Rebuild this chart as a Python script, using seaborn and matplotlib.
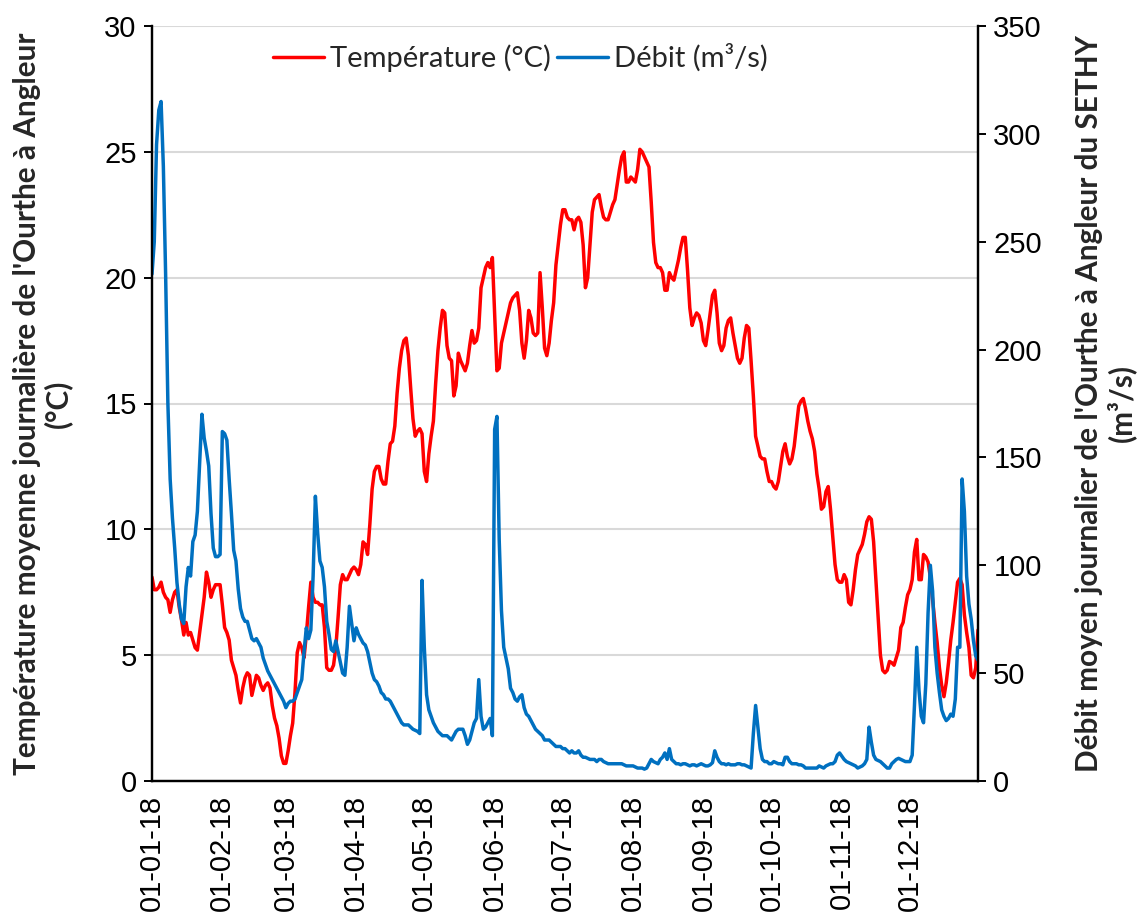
import numpy as np
import pandas as pd
import matplotlib
matplotlib.use("Agg")
import matplotlib.pyplot as plt
import matplotlib.dates as mdates
import seaborn as sns

# Daily mean water temperature of the Ourthe at Angleur, 2018 (°C), month by month
temp_jan = [8.1, 7.6, 7.6, 7.7, 7.9, 7.5, 7.3, 7.2, 6.7, 7.2, 7.5, 7.6, 6.9, 6.4, 5.8, 6.3,
            5.8, 5.9, 5.6, 5.3, 5.2, 5.9, 6.6, 7.3, 8.3, 7.9, 7.3, 7.6, 7.8, 7.8, 7.8]
temp_feb = [7.0, 6.1, 5.9, 5.6, 4.8, 4.5, 4.2, 3.6, 3.1, 3.7, 4.1, 4.3, 4.2, 3.4, 3.8, 4.2,
            4.1, 3.8, 3.6, 3.8, 3.9, 3.7, 3.0, 2.5, 2.2, 1.7, 1.0, 0.7]
temp_mar = [0.7, 1.2, 1.8, 2.3, 3.5, 5.1, 5.5, 5.3, 4.9, 5.8, 6.9, 7.9, 7.3, 7.1, 7.1, 7.0,
            7.0, 6.1, 4.5, 4.4, 4.4, 4.6, 5.3, 6.5, 7.8, 8.2, 8.0, 8.0, 8.2, 8.4, 8.5]
temp_apr = [8.4, 8.2, 8.6, 9.5, 9.4, 9.0, 10.2, 11.6, 12.3, 12.5, 12.5, 12.0, 11.8, 11.8, 12.7,
            13.4, 13.5, 14.1, 15.4, 16.4, 17.1, 17.5, 17.6, 16.9, 15.6, 14.4, 13.7, 13.9, 14.0, 13.8]
temp_may = [12.3, 11.9, 13.0, 13.7, 14.3, 15.8, 17.1, 18.0, 18.7, 18.6, 17.3, 16.8, 16.7, 15.3,
            15.7, 17.0, 16.7, 16.5, 16.3, 16.6, 17.3, 17.9, 17.4, 17.5, 18.0, 19.6, 20.0, 20.4,
            20.6, 20.4, 20.8]
temp_jun = [18.5, 16.3, 16.4, 17.4, 17.8, 18.2, 18.6, 19.0, 19.2, 19.3, 19.4, 18.7, 17.4, 16.8,
            17.5, 18.7, 18.4, 17.8, 17.7, 17.8, 20.2, 18.8, 17.2, 16.9, 17.4, 18.3, 19.0, 20.5,
            21.3, 22.1]
temp_jul = [22.7, 22.7, 22.4, 22.3, 22.3, 21.9, 22.3, 22.4, 22.2, 21.3, 19.6, 20.0, 21.3, 22.6,
            23.1, 23.2, 23.3, 22.8, 22.4, 22.3, 22.3, 22.6, 22.9, 23.1, 23.7, 24.3, 24.8, 25.0,
            23.8, 23.8, 24.0]
temp_aug = [23.9, 23.8, 24.3, 25.1, 25.0, 24.8, 24.6, 24.4, 23.0, 21.4, 20.6, 20.4, 20.4, 20.2,
            19.5, 19.5, 20.2, 20.0, 19.9, 20.3, 20.7, 21.2, 21.6, 21.6, 20.3, 18.8, 18.1, 18.4,
            18.6, 18.5, 18.2]
temp_sep = [17.5, 17.3, 17.9, 18.6, 19.3, 19.5, 18.6, 17.4, 17.1, 17.3, 18.0, 18.3, 18.4, 17.8,
            17.3, 16.8, 16.6, 16.8, 17.6, 18.1, 18.0, 16.7, 15.3, 13.7, 13.3, 12.9, 12.8, 12.8,
            12.3, 11.9]
temp_oct = [11.9, 11.7, 11.6, 11.9, 12.5, 13.1, 13.4, 12.9, 12.6, 12.8, 13.3, 14.1, 14.9, 15.1,
            15.2, 14.8, 14.3, 13.9, 13.6, 13.1, 12.2, 11.6, 10.8, 10.9, 11.5, 11.7, 10.8, 9.7,
            8.6, 8.0, 7.9]
temp_nov = [7.9, 8.2, 8.0, 7.1, 7.0, 7.6, 8.4, 9.0, 9.2, 9.4, 9.8, 10.3, 10.5, 10.4, 9.5, 8.0,
            6.5, 5.0, 4.4, 4.3, 4.4, 4.75, 4.7, 4.6, 4.9, 5.2, 6.1, 6.3, 6.9, 7.4]
temp_dec = [7.6, 8.0, 9.1, 9.6, 8.0, 8.0, 9.0, 8.9, 8.7, 8.1, 7.2, 6.3, 5.5, 4.5, 3.8, 3.35,
            3.9, 4.7, 5.6, 6.3, 7.1, 7.9, 8.05, 7.8, 6.6, 5.9, 5.3, 4.2, 4.1, 4.5, 6.0]

# Daily mean discharge at Angleur (SETHY), 2018 (m³/s), month by month
flow_jan = [235, 250, 295, 311, 315, 285, 235, 175, 140, 122, 108, 92, 82, 75, 73, 90, 99, 95,
            111, 114, 125, 148, 170, 159, 153, 146, 124, 108, 104, 104, 105]
flow_feb = [162, 161, 158, 140, 124, 107, 102, 89, 80, 76, 74, 74, 70, 66, 65, 66, 64, 62, 57,
            54, 51, 49, 47, 45, 43, 41, 39, 37]
flow_mar = [34, 36, 37, 37, 38, 41, 44, 47, 60, 71, 66, 70, 95, 132, 115, 102, 99, 90, 74, 68,
            61, 60, 65, 60, 55, 50, 49, 62, 81, 73, 65]
flow_apr = [71, 68, 66, 64, 63, 60, 55, 50, 47, 46, 44, 41, 40, 38, 38, 37, 35, 33, 31, 29, 27,
            26, 26, 26, 25, 24, 23.5, 23, 22, 93]
flow_may = [62, 40, 33, 30, 27, 25, 23, 22, 21, 21, 21, 20, 19, 21, 23, 24, 24, 24, 21, 17, 19,
            23, 27, 29, 47, 30, 24, 25, 27, 29, 21]
flow_jun = [163, 169, 112, 79, 62, 57, 52, 43, 41, 38, 37, 39, 40, 34, 31, 30, 28, 26, 24, 23,
            22, 21, 19, 19, 19, 18, 17, 16, 16, 16]
flow_jul = [15, 15, 14, 13, 14, 13, 13, 14, 12, 11, 11, 10.5, 10, 10, 10, 9, 10, 10, 9, 8.5, 8,
            8, 8, 8, 8, 8, 8, 7.5, 7, 7, 7]
flow_aug = [7, 6.5, 6, 6, 6, 5.5, 6, 8, 10, 9, 8.5, 8, 10, 11, 13, 10, 15, 10, 9, 8, 8, 7.5, 8,
            8, 7.5, 7, 7.5, 7.5, 7, 7.5, 8]
flow_sep = [7.5, 7, 7, 7.5, 8.5, 14, 11, 9, 8, 8, 7.5, 8, 7.5, 7.5, 7.5, 8, 8, 7.5, 7.5, 7, 6.5,
            6, 22, 35, 25, 15, 10, 9, 9, 8]
flow_oct = [8, 9, 8.5, 8, 8, 7.5, 11, 11, 9, 8, 8, 8, 7.5, 7.5, 7, 6, 6, 6, 6, 6, 6, 7, 6.5, 6,
            7, 7.5, 8, 8, 9, 12, 13]
flow_nov = [11.5, 10, 9, 8.5, 8, 7.5, 7, 6, 6.5, 7, 8, 10, 25, 18, 12, 10, 9.5, 9, 8, 7, 6, 6,
            8, 9, 10, 10.5, 10, 9.5, 9, 9]
flow_dec = [9, 12, 35, 62, 42, 30, 27, 45, 78, 100, 88, 62, 50, 41, 33, 30, 28, 29, 31, 30, 38,
            62, 62, 140, 125, 95, 82, 75, 65, 58, 56]

temp_label = "Température (°C)"
flow_label = "Débit (m³/s)"
left_title = "Température moyenne journalière de l'Ourthe à Angleur\n(°C)"
right_title = "Débit moyen journalier de l'Ourthe à Angleur du SETHY\n(m³/s)"
temp_ticks = [0, 5, 10, 15, 20, 25, 30]
flow_ticks = [0, 50, 100, 150, 200, 250, 300, 350]

temperature = np.concatenate([temp_jan, temp_feb, temp_mar, temp_apr, temp_may, temp_jun,
                              temp_jul, temp_aug, temp_sep, temp_oct, temp_nov, temp_dec])
discharge = np.concatenate([flow_jan, flow_feb, flow_mar, flow_apr, flow_may, flow_jun,
                            flow_jul, flow_aug, flow_sep, flow_oct, flow_nov, flow_dec])
dates = pd.date_range("2018-01-01", "2018-12-31", freq="D")
df = pd.DataFrame({"date": dates, "temp": temperature, "flow": discharge})

sns.set_style("white")
plt.rcParams["font.family"] = ["Liberation Sans", "DejaVu Sans"]

RED = "#FF0000"
BLUE = "#0070C0"
TICK_SIZE = 21
TITLE_FONT = ["Lato", "DejaVu Sans"]
TITLE_SIZE = 21.4

fig = plt.figure(figsize=(11.43, 9.18), dpi=100)
ax = fig.add_axes([152 / 1143, 1 - 781 / 918, 826 / 1143, 755 / 918])
ax2 = ax.twinx()

sns.lineplot(data=df, x="date", y="temp", ax=ax, color=RED, linewidth=2.5, label=temp_label,
             legend=False)
sns.lineplot(data=df, x="date", y="flow", ax=ax2, color=BLUE, linewidth=2.5, label=flow_label,
             legend=False)

# Axes ranges and ticks
ax.set_xlim(pd.Timestamp("2018-01-01"), pd.Timestamp("2018-12-31"))
ax.set_ylim(0, 30)
ax.set_yticks(temp_ticks)
ax2.set_ylim(0, 350)
ax2.set_yticks(flow_ticks)
ax.xaxis.set_major_locator(mdates.MonthLocator())
ax.xaxis.set_major_formatter(mdates.DateFormatter("%d-%m-%y"))

for a in (ax, ax2):
    a.tick_params(axis="both", direction="out", length=6, width=1.4, color="black",
                  labelsize=TICK_SIZE, labelcolor="black", pad=5)
ax.tick_params(axis="x", labelrotation=90, pad=4)

# Horizontal gridlines only
ax.yaxis.grid(True, color="#d9d9d9", linewidth=1.5)
ax.xaxis.grid(False)
ax2.grid(False)
ax.set_axisbelow(True)

for a in (ax, ax2):
    for side in ("left", "right", "bottom"):
        a.spines[side].set_visible(True)
        a.spines[side].set_color("black")
        a.spines[side].set_linewidth(1.6)
    a.spines["top"].set_visible(False)

ax.set_xlabel("")
ax.set_ylabel(left_title, fontsize=TITLE_SIZE, fontweight="bold", family=TITLE_FONT,
              multialignment="center", linespacing=1.1)
ax.yaxis.set_label_coords(-0.097, 0.5)
ax2.set_ylabel(right_title, fontsize=TITLE_SIZE, fontweight="bold", family=TITLE_FONT,
               multialignment="center", linespacing=1.1, rotation=90)
ax2.yaxis.set_label_coords(1.118, 0.5)

# Shared legend at the top of the plot
handles = ax.get_lines()[:1] + ax2.get_lines()[:1]
labels = [temp_label, flow_label]
leg = ax.legend(handles, labels, loc="center", bbox_to_anchor=(0.446, 0.958), ncol=2,
                frameon=False, handlelength=1.75, handletextpad=0.2, columnspacing=0.2,
                prop={"family": TITLE_FONT, "size": 21})

fig.savefig("out.png", dpi=100)
